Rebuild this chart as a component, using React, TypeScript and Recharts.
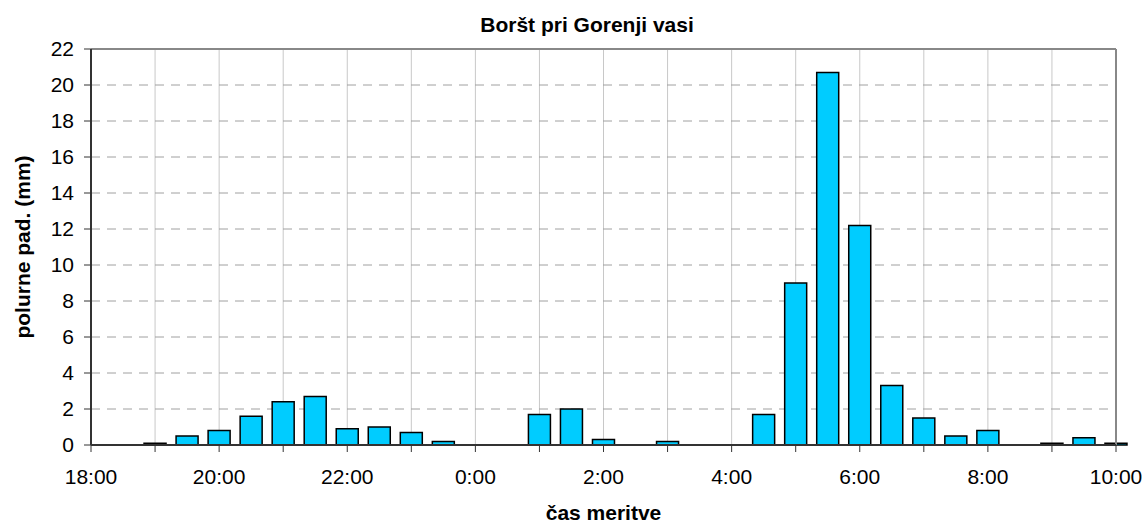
import React from "react";
import {
  BarChart,
  Bar,
  XAxis,
  YAxis,
  CartesianGrid,
  ReferenceLine,
  Label,
} from "recharts";

const title = "Boršt pri Gorenji vasi";
const xAxisTitle = "čas meritve";
const yAxisTitle = "polurne pad. (mm)";

// measurement times (half-hourly, only those with recorded rainfall)
const times = [
  "19:00", "19:30", "20:00", "20:30", "21:00", "21:30", "22:00", "22:30",
  "23:00", "23:30", "1:00", "1:30", "2:00", "3:00", "4:30", "5:00",
  "5:30", "6:00", "6:30", "7:00", "7:30", "8:00", "9:00", "9:30", "10:00",
];
// half-hourly precipitation (mm)
const rainfall = [
  0.1, 0.5, 0.8, 1.6, 2.4, 2.7, 0.9, 1.0,
  0.7, 0.2, 1.7, 2.0, 0.3, 0.2, 1.7, 9.0,
  20.7, 12.2, 3.3, 1.5, 0.5, 0.8, 0.1, 0.4, 0.1,
];
const xTickLabels = ["18:00", "20:00", "22:00", "0:00", "2:00", "4:00", "6:00", "8:00", "10:00"];
const yTicks = [0, 2, 4, 6, 8, 10, 12, 14, 16, 18, 20, 22];

const START_HOUR = 18;
const toHours = (s: string) => {
  const [h, m] = s.split(":").map(Number);
  let v = h + m / 60;
  if (v < START_HOUR) v += 24;
  return v - START_HOUR;
};

const data = times.map((t, i) => ({ time: t, t: toHours(t), value: rainfall[i] }));
const hourTicks = Array.from({ length: (xTickLabels.length - 1) * 2 + 1 }, (_, i) => i);

const FONT = "'Liberation Sans', Arial, sans-serif";

export default function App() {
  return (
    <div style={{ position: "absolute", left: 0, top: 0, width: 1147, height: 524, background: "#fff" }}>
      <div
        style={{
          position: "absolute",
          left: 387,
          top: 13,
          width: 400,
          textAlign: "center",
          fontFamily: FONT,
          fontWeight: "bold",
          fontSize: 21,
          lineHeight: "24px",
          color: "#000",
        }}
      >
        {title}
      </div>
      <BarChart
        width={1147}
        height={524}
        data={data}
        margin={{ top: 49, right: 31, bottom: 0, left: 0 }}
      >
        <CartesianGrid horizontal={false} stroke="#c8c8c8" strokeWidth={1} />
        <CartesianGrid vertical={false} stroke="#a0a0a0" strokeDasharray="9 7" strokeWidth={1} />
        <XAxis
          type="number"
          dataKey="t"
          domain={[0, 16]}
          ticks={hourTicks}
          interval={0}
          height={79}
          axisLine={{ stroke: "#333", strokeWidth: 2 }}
          tickLine={{ stroke: "#333", strokeWidth: 1 }}
          tickSize={7}
          tickMargin={17}
          tick={{ fill: "#000", fontSize: 21, fontFamily: FONT }}
          tickFormatter={(v: number) => (v % 2 === 0 ? xTickLabels[v / 2] : "")}
        >
          <Label
            value={xAxisTitle}
            position="insideBottom"
            offset={4}
            style={{ fontFamily: FONT, fontWeight: "bold", fontSize: 21, fill: "#000" }}
          />
        </XAxis>
        <YAxis
          type="number"
          domain={[0, 22]}
          ticks={yTicks}
          interval={0}
          width={91}
          axisLine={{ stroke: "#333", strokeWidth: 2 }}
          tickLine={{ stroke: "#333", strokeWidth: 1 }}
          tickSize={7}
          tickMargin={10}
          tick={{ fill: "#000", fontSize: 21, fontFamily: FONT }}
        >
          <Label
            content={(props: any) => {
              const vb = props.viewBox || {};
              const cy = (vb.y ?? 49) + (vb.height ?? 396) / 2;
              return (
                <text
                  x={22}
                  y={cy}
                  transform={`rotate(-90 22 ${cy})`}
                  textAnchor="middle"
                  dominantBaseline="central"
                  style={{ fontFamily: FONT, fontWeight: "bold", fontSize: 21, fill: "#000" }}
                >
                  {yAxisTitle}
                </text>
              );
            }}
          />
        </YAxis>
        <ReferenceLine y={22} stroke="#888" strokeWidth={2} />
        <ReferenceLine x={16} stroke="#888" strokeWidth={2} />
        <Bar
          dataKey="value"
          fill="#00ccff"
          stroke="#000"
          strokeWidth={1.5}
          barSize={22}
          isAnimationActive={false}
        />
      </BarChart>
    </div>
  );
}
